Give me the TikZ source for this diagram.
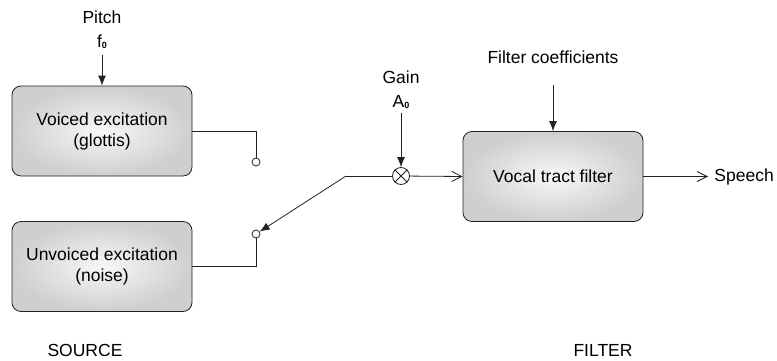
\documentclass[tikz,border=0pt]{standalone}
\usepackage{fontspec}
\setmainfont{Liberation Sans}
\usepackage{xcolor}
\usepackage{tikz}
\usetikzlibrary{arrows.meta}

\definecolor{lineclr}{HTML}{222222}
\tikzset{
  block/.style={draw=lineclr,line width=0.8pt,rounded corners=9pt,
    minimum width=180pt,minimum height=90pt,align=center,
    shading=radial,inner color=gray!6,outer color=gray!38},
  contact/.style={draw=lineclr,line width=0.8pt,circle,fill=white,
    minimum size=8pt,inner sep=0pt},
  label/.style={align=center,inner sep=1pt}
}
\newcommand{\subzero}[1]{#1\raisebox{-0.05em}{\fontsize{9}{9}\selectfont\bfseries 0}}

\begin{document}
\begin{tikzpicture}[x=1pt,y=1pt]
\useasboundingbox (0,0) rectangle (777,360);
\fontsize{17.5}{21}\selectfont
\begin{scope}[line width=0.8pt,draw=lineclr,
  >={Latex[length=10pt,width=8pt]}]
    % source side
    \node[block] (voiced) at (102,229) {Voiced excitation\\(glottis)};
    \node[block] (unvoiced) at (102,93.5) {Unvoiced excitation\\(noise)};
    \node[label] (pitch) at (102,343) {Pitch};
    \node[label] (fzero) at (102,318) {\subzero{f}};
    \coordinate (pitchin) at (102,305);
    \draw[->] (pitchin) -- (voiced.north);

    \node[contact] (sw1) at (256,198) {};
    \node[contact] (sw2) at (256,126) {};
    \draw (voiced.east) -| (sw1.north);
    \draw (unvoiced.east) -| (sw2.south);

    % switch arm and gain
    \coordinate (arm) at (346,184);
    \draw[->] (arm) -- (sw2);
    \node[contact,minimum size=17pt] (mult) at (401,184) {};
    \draw (mult.45) -- (mult.225);
    \draw (mult.135) -- (mult.315);
    \draw (arm) -- (mult);
    \node[label] (gain) at (401,283) {Gain};
    \node[label] (azero) at (401,258) {\subzero{A}};
    \coordinate (gainin) at (401,247);
    \draw[->] (gainin) -- (mult);

    % filter side
    \node[block] (filter) at (553,183.5) {Vocal tract filter};
    \node[label] (coeff) at (553,303) {Filter coefficients};
    \coordinate (coeffin) at (553,275);
    \draw[->] (coeffin) -- (filter.north);
    \draw[-{Straight Barb[length=10pt,width=10pt]}] (mult) -- (filter.west);

    \node[label,anchor=west,inner sep=6pt] (speech) at (708,183.5) {Speech};
    \draw[-{Straight Barb[length=10pt,width=10pt]}] (filter.east) -- (speech.west);

    \node[label] (source) at (85,10) {SOURCE};
    \node[label] (filt) at (603,10) {FILTER};
\end{scope}
\end{tikzpicture}
\end{document}
